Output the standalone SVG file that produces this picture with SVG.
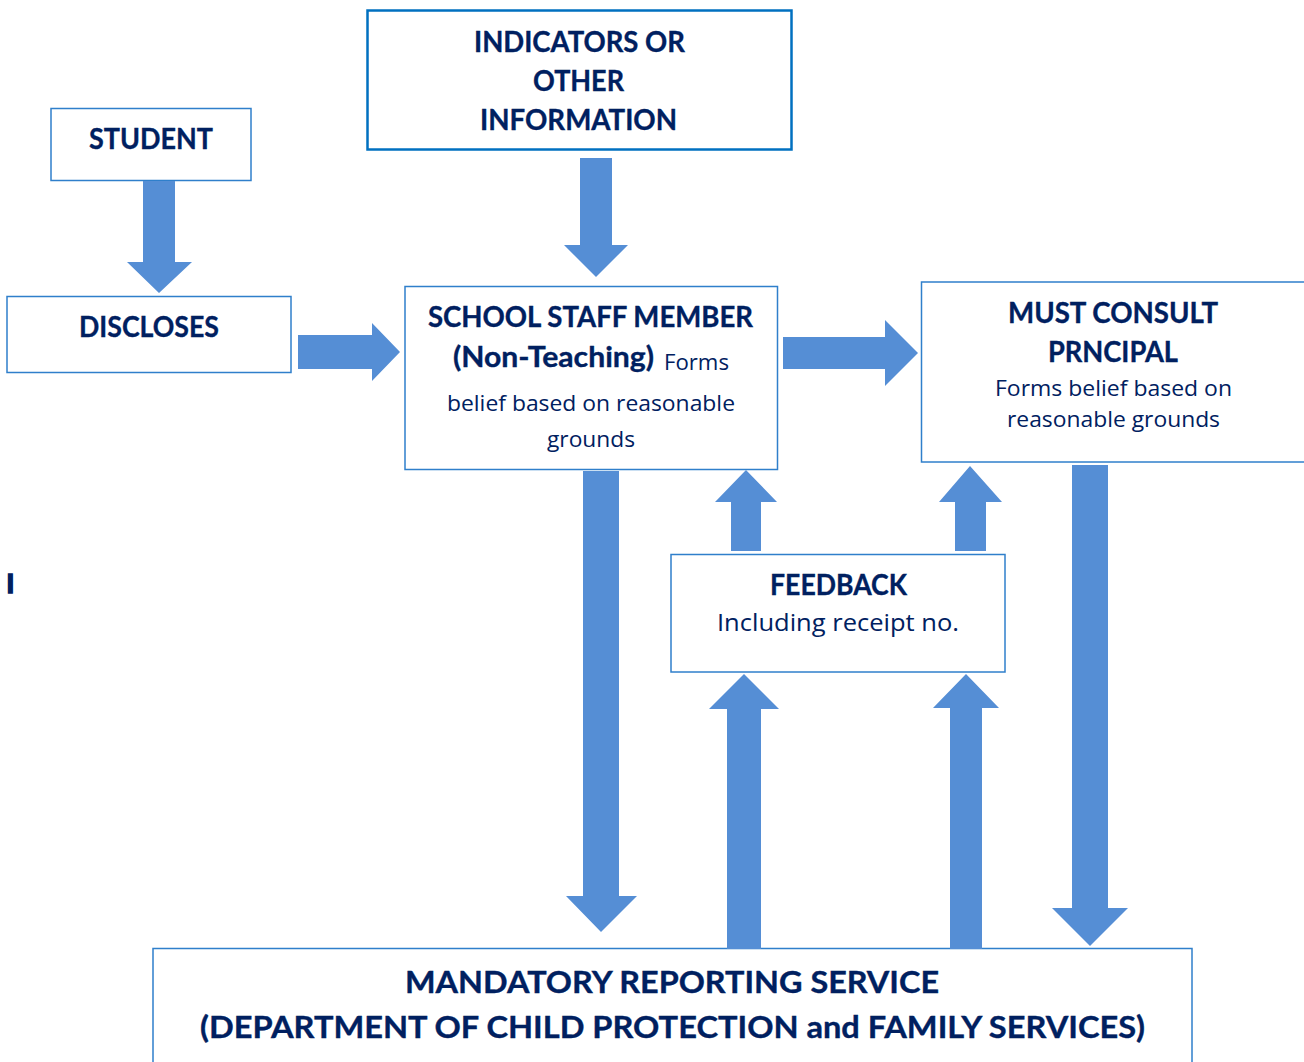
<svg xmlns="http://www.w3.org/2000/svg" width="1304" height="1062" viewBox="0 0 1304 1062">
  <style>
    .box { fill: #ffffff; stroke: #2F7FCB; stroke-width: 1.5; }
    .box-strong { fill: #ffffff; stroke: #0070C0; stroke-width: 2.5; }
    .arrow { fill: #558ED5; }
    text { font-family: Lato, "Open Sans", "Liberation Sans", sans-serif; fill: #002060; }
    .h { font-weight: 700; font-size: 29px; stroke: #002060; stroke-width: 0.35; }
    .h2 { font-weight: 700; font-size: 30px; stroke: #002060; stroke-width: 0.35; }
    .b { font-family: "Open Sans", Lato, "Liberation Sans", sans-serif; font-weight: 400; font-size: 22px; }
    .c { text-anchor: middle; }
  </style>

  <rect width="1304" height="1062" fill="#ffffff"/>

  <!-- nodes -->
  <g id="node-student">
    <rect class="box" x="51" y="108.5" width="200" height="72"/>
    <text class="h c" x="151" y="149" textLength="124" lengthAdjust="spacingAndGlyphs">STUDENT</text>
  </g>

  <g id="node-indicators">
    <rect class="box-strong" x="367.5" y="10.5" width="424" height="139"/>
    <text class="h c" x="579.5" y="52" textLength="211" lengthAdjust="spacingAndGlyphs">INDICATORS OR</text>
    <text class="h c" x="578.5" y="91" textLength="91" lengthAdjust="spacingAndGlyphs">OTHER</text>
    <text class="h c" x="578.5" y="130" textLength="197" lengthAdjust="spacingAndGlyphs">INFORMATION</text>
  </g>

  <g id="node-discloses">
    <rect class="box" x="7" y="296.5" width="284" height="76"/>
    <text class="h c" x="149" y="337" textLength="140" lengthAdjust="spacingAndGlyphs">DISCLOSES</text>
  </g>

  <g id="node-staff">
    <rect class="box" x="405" y="286.5" width="372.5" height="183"/>
    <text class="h c" x="590.5" y="327" textLength="325" lengthAdjust="spacingAndGlyphs">SCHOOL STAFF MEMBER</text>
    <text class="h" x="453" y="367" textLength="201" lengthAdjust="spacingAndGlyphs">(Non-Teaching)</text>
    <text class="b" x="664" y="370" textLength="65" lengthAdjust="spacingAndGlyphs">Forms</text>
    <text class="b c" x="591" y="411" textLength="288" lengthAdjust="spacingAndGlyphs">belief based on reasonable</text>
    <text class="b c" x="591" y="447" textLength="88" lengthAdjust="spacingAndGlyphs">grounds</text>
  </g>

  <g id="node-principal">
    <rect class="box" x="921.5" y="282" width="392" height="180"/>
    <text class="h c" x="1113" y="323" textLength="210" lengthAdjust="spacingAndGlyphs">MUST CONSULT</text>
    <text class="h c" x="1113" y="362" textLength="130" lengthAdjust="spacingAndGlyphs">PRNCIPAL</text>
    <text class="b c" x="1113.5" y="396" textLength="237" lengthAdjust="spacingAndGlyphs">Forms belief based on</text>
    <text class="b c" x="1113.5" y="427" textLength="213" lengthAdjust="spacingAndGlyphs">reasonable grounds</text>
  </g>

  <g id="node-feedback">
    <rect class="box" x="671" y="554.5" width="334" height="117.5"/>
    <text class="h c" x="838.5" y="595" textLength="137" lengthAdjust="spacingAndGlyphs">FEEDBACK</text>
    <text class="b c" x="838" y="631" style="font-size:24px" textLength="242" lengthAdjust="spacingAndGlyphs">Including receipt no.</text>
  </g>

  <g id="node-mandatory">
    <rect class="box" x="153" y="948.5" width="1039" height="130"/>
    <text class="h2 c" x="672" y="993" textLength="534" lengthAdjust="spacingAndGlyphs">MANDATORY REPORTING SERVICE</text>
    <text class="h2 c" x="672.5" y="1038" textLength="945" lengthAdjust="spacingAndGlyphs">(DEPARTMENT OF CHILD PROTECTION and FAMILY SERVICES)</text>
  </g>

  <g id="stray-mark">
    <text class="h" x="6.5" y="593" style="font-size:26px; stroke-width:1.6px">I</text>
  </g>

  <!-- connectors: block arrows -->
  <g id="connectors">
    <!-- student -> discloses -->
    <polygon class="arrow" points="143,181 175,181 175,262 192,262 159,293 127,262 143,262"/>
    <!-- discloses -> staff -->
    <polygon class="arrow" points="298,335 372,335 372,323 400,352 372,381 372,369 298,369"/>
    <!-- indicators -> staff -->
    <polygon class="arrow" points="580,158 612,158 612,245 628,245 596,277 564,245 580,245"/>
    <!-- staff -> principal -->
    <polygon class="arrow" points="783,337 885,337 885,320 918,353 885,386 885,369 783,369"/>
    <!-- staff -> mandatory reporting -->
    <polygon class="arrow" points="583,471 619,471 619,896 637,896 601,932 566,896 583,896"/>
    <!-- feedback -> staff -->
    <polygon class="arrow" points="731,551 761,551 761,502 777,502 746,470 715,502 731,502"/>
    <!-- feedback -> principal -->
    <polygon class="arrow" points="955,551 986,551 986,502 1002,502 970,466 939,502 955,502"/>
    <!-- mandatory reporting -> feedback (left) -->
    <polygon class="arrow" points="727,949 761,949 761,709 779,709 744,674 709,709 727,709"/>
    <!-- mandatory reporting -> feedback (right) -->
    <polygon class="arrow" points="950,949 982,949 982,708 999,708 966,674 933,708 950,708"/>
    <!-- principal -> mandatory reporting -->
    <polygon class="arrow" points="1072,465 1108,465 1108,908 1128,908 1090,946 1052,908 1072,908"/>
  </g>
</svg>
